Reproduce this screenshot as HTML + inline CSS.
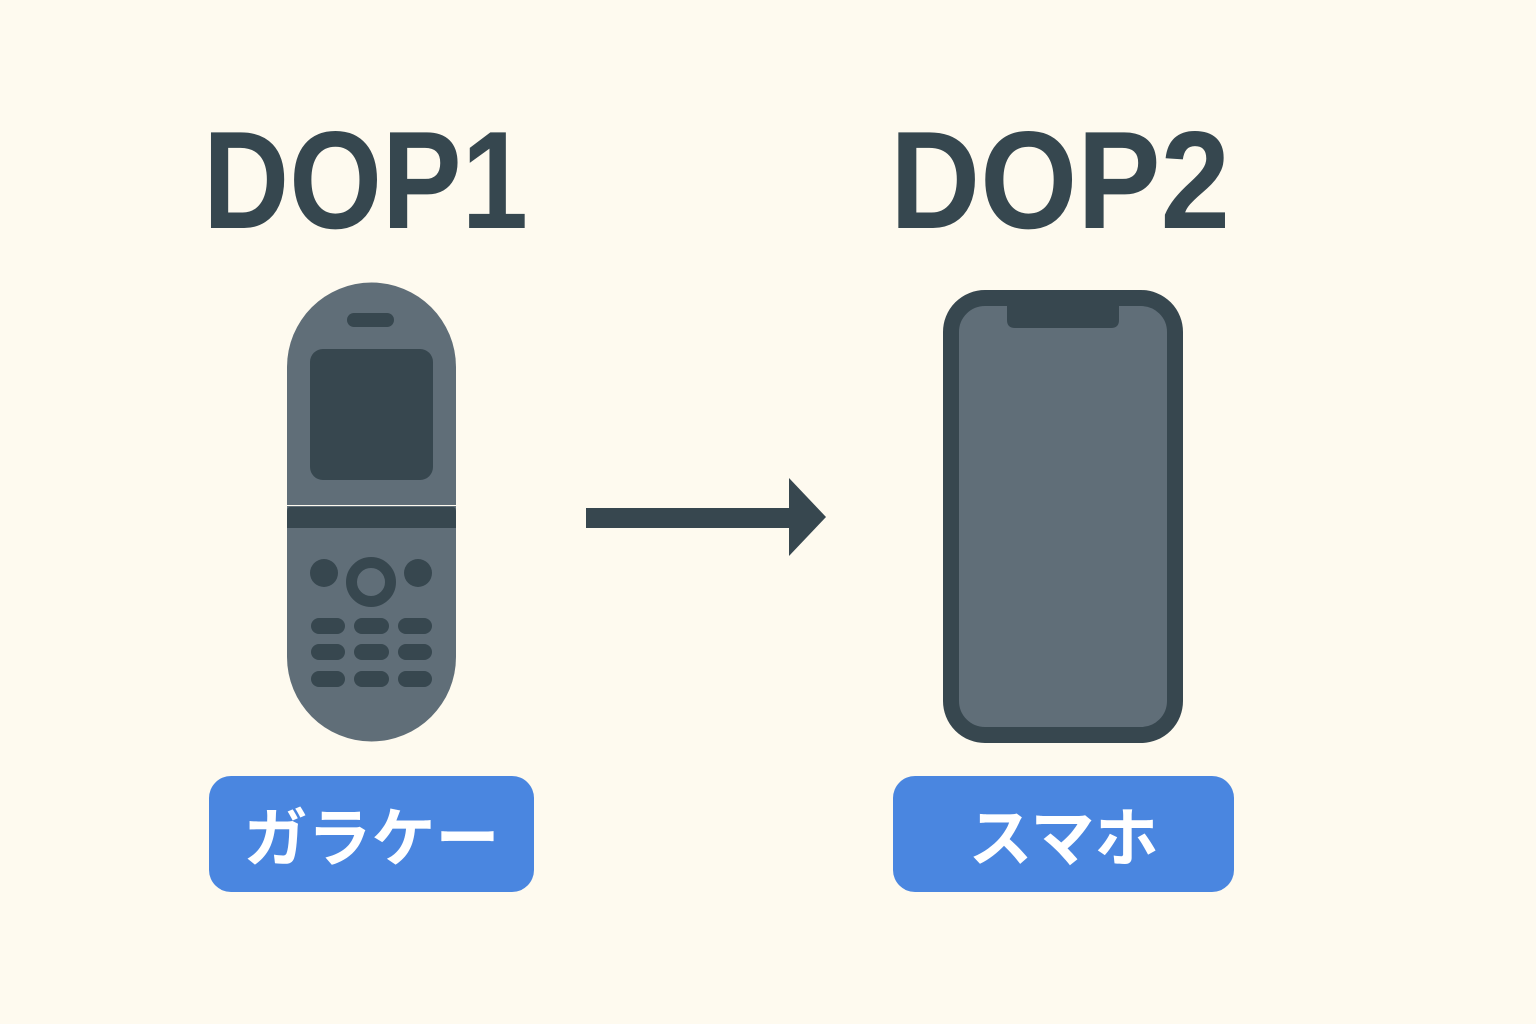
<!DOCTYPE html>
<html><head><meta charset="utf-8"><style>
html,body{margin:0;padding:0;background:#fefaef;}
body{width:1536px;height:1024px;position:relative;overflow:hidden;}
.lb{position:absolute;top:776px;height:116px;background:#4a86e0;border-radius:22px;color:#fff;font:bold 64px "Liberation Sans","Noto Sans CJK JP",sans-serif;display:flex;align-items:center;justify-content:center;}
</style></head><body>
<svg width="1536" height="1024" style="position:absolute;left:0;top:0">
<g font-family="Liberation Sans, sans-serif" font-weight="bold" font-size="139" fill="#36474f">
<text x="203" y="228" textLength="325" lengthAdjust="spacingAndGlyphs">DOP1</text>
<text x="890" y="228" textLength="340" lengthAdjust="spacingAndGlyphs">DOP2</text>
</g>
<!-- flip phone -->
<path d="M287 505 V367 A84.5 84.5 0 0 1 456 367 V505 Z" fill="#606e78"/>
<path d="M287 506 H456 V657 A84.5 84.5 0 0 1 287 657 Z" fill="#606e78"/>
<path d="M290 507 H453 Q456 507 456 512 V528 H287 V512 Q287 507 290 507Z" fill="#37474f"/>
<rect x="347" y="313" width="47" height="14" rx="7" fill="#37474f"/>
<rect x="310" y="349" width="123" height="131" rx="13" fill="#37474f"/>
<circle cx="324" cy="573" r="14" fill="#37474f"/>
<circle cx="418" cy="573" r="14" fill="#37474f"/>
<circle cx="371" cy="582" r="19.5" fill="none" stroke="#37474f" stroke-width="11"/>
<g fill="#37474f">
<rect x="311" y="618" width="34" height="16" rx="8"/><rect x="354" y="618" width="35" height="16" rx="8"/><rect x="398" y="618" width="34" height="16" rx="8"/>
<rect x="311" y="644" width="34" height="16" rx="8"/><rect x="354" y="644" width="35" height="16" rx="8"/><rect x="398" y="644" width="34" height="16" rx="8"/>
<rect x="311" y="671" width="34" height="16" rx="8"/><rect x="354" y="671" width="35" height="16" rx="8"/><rect x="398" y="671" width="34" height="16" rx="8"/>
</g>
<!-- arrow -->
<rect x="586" y="508" width="206" height="20" fill="#37474f"/>
<polygon points="789,478 826,517 789,556" fill="#37474f"/>
<!-- smartphone -->
<rect x="951" y="298" width="224" height="437" rx="34" fill="#606e78" stroke="#37474f" stroke-width="16"/>
<path d="M1007 305 H1119 V320 Q1119 328 1111 328 H1015 Q1007 328 1007 320 Z" fill="#37474f"/>
</svg>
<div class="lb" style="left:209px;width:325px">ガラケー</div>
<div class="lb" style="left:893px;width:341px">スマホ</div>
</body></html>
